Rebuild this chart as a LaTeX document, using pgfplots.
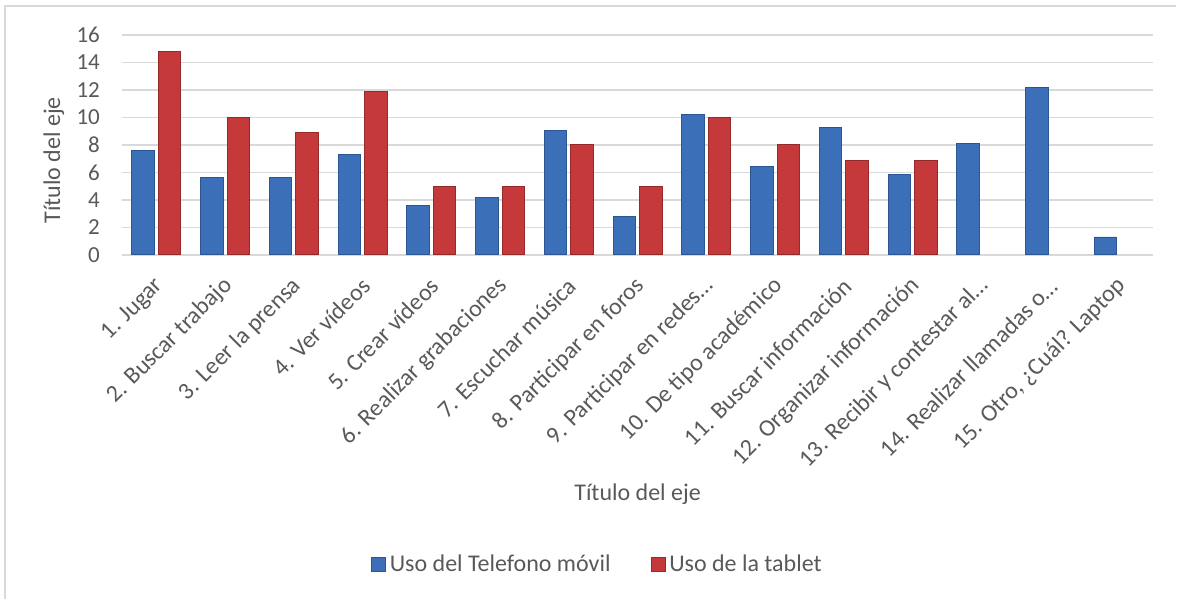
\documentclass[border=0pt]{standalone}
\usepackage{pgfplots}
\pgfplotsset{compat=1.18}
\usepackage{fontspec}
\setmainfont{Carlito}

\definecolor{txt}{HTML}{595959}
\definecolor{gridc}{HTML}{D9D9D9}
\definecolor{frame}{HTML}{D9D9D9}
\definecolor{blueD}{HTML}{2B5692}
\definecolor{blueM}{HTML}{3B6FB8}
\definecolor{redD}{HTML}{962A2A}
\definecolor{redM}{HTML}{C6393A}

\begin{document}
\begin{tikzpicture}
\begin{axis}[
    scale only axis,
    width=516pt, height=110pt,
    xmin=-0.5, xmax=14.5,
    ymin=0, ymax=16,
    ytick={0,2,...,16},
    xtick={0,...,14},
    xticklabels={1. Jugar, 2. Buscar trabajo, 3. Leer la prensa, 4. Ver vídeos, 5. Crear vídeos,
        6. Realizar grabaciones, 7. Escuchar música, 8. Participar en foros, 9. Participar en redes…,
        10. De tipo académico, 11. Buscar información, 12. Organizar información,
        13. Recibir y contestar al…, 14. Realizar llamadas o…, {15. Otro, ¿Cuál? Laptop}},
    ybar=2pt, bar width=11.25pt,
    ymajorgrids, grid style={gridc, line width=0.8pt},
    axis lines*=left,
    y axis line style={draw=none},
    x axis line style={gridc, line width=0.8pt},
    major tick length=0pt,
    tick label style={text=txt},
    yticklabel style={font=\fontsize{11.5}{13}\selectfont, xshift=-7.5pt},
    xticklabel style={font=\fontsize{12}{14}\selectfont, rotate=45, anchor=east, xshift=-5pt, yshift=-11pt},
    /pgf/number format/assume math mode=true,
    clip=false,
    xlabel={Título del eje},
    ylabel={Título del eje},
    every axis x label/.style={at={(rel axis cs:0.5,-1.09)}, anchor=center,
        font=\fontsize{12}{14}\selectfont, text=txt},
    every axis y label/.style={at={(rel axis cs:-0.066,0.43)}, anchor=center, rotate=90,
        font=\fontsize{12}{14}\selectfont, text=txt},
    legend style={at={(rel axis cs:0.462,-1.409)}, anchor=center, draw=none, fill=none,
        legend columns=2, font=\fontsize{12}{14}\selectfont, text=txt,
        /tikz/every even column/.append style={column sep=18pt}},
    legend image code/.code={\path[#1] (0pt,-3.5pt) rectangle (7pt,3.5pt);},
]
\addplot[draw=blueD, fill=blueM] coordinates {
    (0,7.6) (1,5.6) (2,5.6) (3,7.3) (4,3.6) (5,4.2) (6,9.05) (7,2.8)
    (8,10.2) (9,6.4) (10,9.3) (11,5.85) (12,8.1) (13,12.2) (14,1.3)};
\addplot[draw=redD, fill=redM] coordinates {
    (0,14.8) (1,10) (2,8.9) (3,11.9) (4,5) (5,5) (6,8) (7,5)
    (8,10) (9,8) (10,6.9) (11,6.9)};
\legend{Uso del Telefono móvil, Uso de la tablet}
\draw[frame, line width=0.8pt] (rel axis cs:-0.1134,-1.5636) -- (rel axis cs:-0.1134,1.132) -- (rel axis cs:1.0223,1.132);
\path (rel axis cs:-0.1182,-1.5636) rectangle (rel axis cs:1.0223,1.159);
\end{axis}
\end{tikzpicture}
\end{document}
